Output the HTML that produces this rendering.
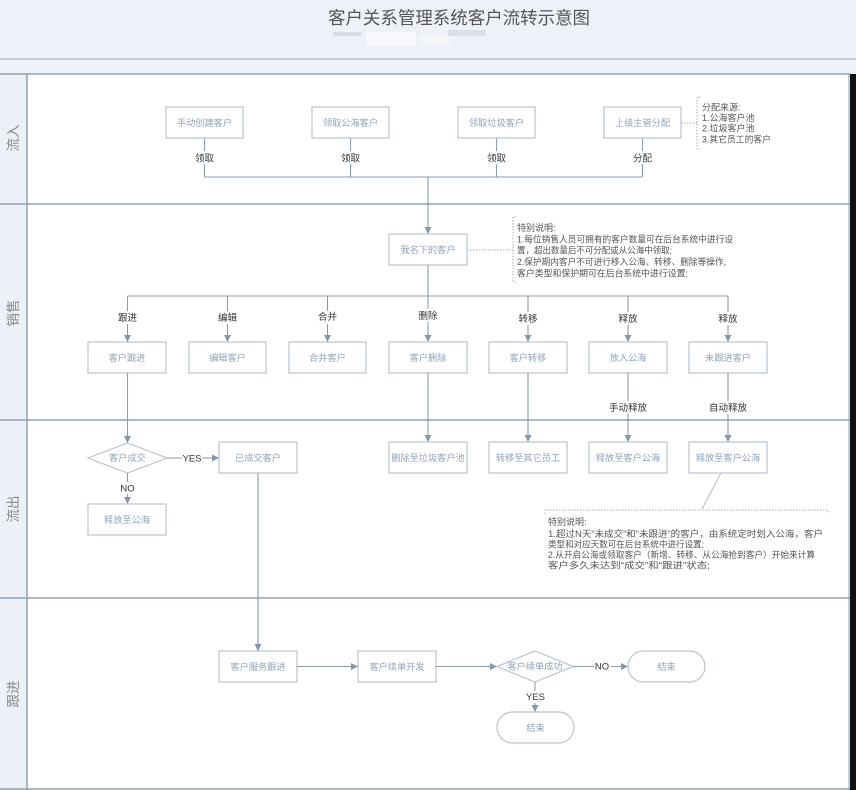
<!DOCTYPE html>
<html>
<head>
<meta charset="utf-8">
<style>
  html,body{margin:0;padding:0;background:#fff;}
  svg{display:block;}
  text{font-family:"Liberation Sans","Noto Sans CJK SC",sans-serif;}
  .bx{fill:#fff;stroke:#b9c4d0;stroke-width:1.2;}
  .bt{font-size:9.2px;fill:#8fa3ba;text-anchor:middle;}
  .ln{stroke:#8d9bac;stroke-width:1.1;fill:none;}
  .el{font-size:9.5px;fill:#333;text-anchor:middle;}
  .nt{font-size:9px;fill:#555;}
  .lane{stroke:#8fa0b4;stroke-width:1.5;}
  .ll{font-size:13.5px;fill:#888;text-anchor:middle;}
  .dot{stroke:#a5aeb8;stroke-width:1;stroke-dasharray:1.5,1.5;fill:none;}
</style>
</head>
<body>
<svg width="856" height="790" viewBox="0 0 856 790" xmlns="http://www.w3.org/2000/svg">
  <defs>
    <marker id="ar" markerWidth="8" markerHeight="8" refX="7" refY="3.5" orient="auto" markerUnits="userSpaceOnUse">
      <path d="M0,0 L7,3.5 L0,7 Z" fill="#8596a9"/>
    </marker>
  </defs>

  <!-- backgrounds -->
  <rect x="0" y="0" width="856" height="790" fill="#ffffff"/>
  <rect x="0" y="0" width="856" height="74" fill="#eef1f7"/>
  <rect x="0" y="74" width="27" height="716" fill="#edf1f7"/>
  <rect x="850" y="74" width="6" height="716" fill="#111"/>

  <!-- title -->
  <text x="459" y="24" font-size="17.5" fill="#555" text-anchor="middle" textLength="262" lengthAdjust="spacingAndGlyphs">客户关系管理系统客户流转示意图</text>
  <rect x="333" y="32" width="28" height="4" fill="#c9ced6" opacity="0.6"/>
  <rect x="366" y="32" width="50" height="14" fill="#f7f8fb" opacity="0.9"/>
  <rect x="448" y="30" width="38" height="6" fill="#cfd3da" opacity="0.6"/>
  <rect x="420" y="36" width="30" height="10" fill="#f4f6fa" opacity="0.9"/>

  <!-- header lines -->
  <line x1="0" y1="59" x2="856" y2="59" stroke="#aab6c4" stroke-width="1.2"/>
  <line x1="0" y1="74" x2="850" y2="74" class="lane"/>
  <!-- lanes -->
  <line x1="0" y1="204" x2="850" y2="204" class="lane"/>
  <line x1="0" y1="420" x2="850" y2="420" class="lane"/>
  <line x1="0" y1="598" x2="850" y2="598" class="lane"/>
  <line x1="0" y1="789" x2="850" y2="789" class="lane"/>
  <line x1="27" y1="74" x2="27" y2="790" class="lane" stroke-width="1.2"/>
  <line x1="849" y1="74" x2="849" y2="790" stroke="#8fa0b4" stroke-width="1"/>

  <!-- lane labels -->
  <text class="ll" transform="translate(18,138) rotate(-90)">流入</text>
  <text class="ll" transform="translate(18,313) rotate(-90)">销售</text>
  <text class="ll" transform="translate(18,509) rotate(-90)">流出</text>
  <text class="ll" transform="translate(18,694) rotate(-90)">跟进</text>

  <!-- ===== 流入 ===== -->
  <path class="ln" d="M204.5,138 V177 M350.5,138 V177 M496.5,138 V177 M642.5,138 V177 M204.5,177 H642.5"/>
  <path class="ln" d="M428,177 V234" marker-end="url(#ar)"/>
  <rect class="bx" x="166" y="107" width="77" height="31"/>
  <rect class="bx" x="312" y="107" width="77" height="31"/>
  <rect class="bx" x="458" y="107" width="77" height="31"/>
  <rect class="bx" x="604" y="107" width="77" height="31"/>
  <text class="bt" x="204.5" y="126">手动创建客户</text>
  <text class="bt" x="350.5" y="126">领取公海客户</text>
  <text class="bt" x="496.5" y="126">领取垃圾客户</text>
  <text class="bt" x="642.5" y="126">上级主管分配</text>
  <rect x="194" y="151" width="21" height="13" fill="#fff"/>
  <rect x="340" y="151" width="21" height="13" fill="#fff"/>
  <rect x="486" y="151" width="21" height="13" fill="#fff"/>
  <rect x="632" y="151" width="21" height="13" fill="#fff"/>
  <text class="el" x="204.5" y="161.5">领取</text>
  <text class="el" x="350.5" y="161.5">领取</text>
  <text class="el" x="496.5" y="161.5">领取</text>
  <text class="el" x="642.5" y="161.5">分配</text>
  <!-- note 分配来源 -->
  <line class="dot" x1="681" y1="123" x2="697" y2="123"/>
  <path class="dot" d="M700,97 H697 V149 H700"/>
  <text class="nt" x="702" y="110.5">分配来源:</text>
  <text class="nt" x="702" y="121">1.公海客户池</text>
  <text class="nt" x="702" y="131.5">2.垃圾客户池</text>
  <text class="nt" x="702" y="142.5" textLength="69" lengthAdjust="spacingAndGlyphs">3.其它员工的客户</text>

  <!-- ===== 销售 ===== -->
  <rect class="bx" x="389" y="234" width="78" height="31"/>
  <text class="bt" x="428" y="253">我名下的客户</text>
  <line class="dot" x1="467" y1="250" x2="513" y2="250"/>
  <path class="dot" d="M516,217 H513 V282 H516"/>
  <text class="nt" x="517" y="231">特别说明:</text>
  <text class="nt" x="517" y="242.5" textLength="216" lengthAdjust="spacingAndGlyphs">1.每位销售人员可拥有的客户数量可在后台系统中进行设</text>
  <text class="nt" x="517" y="253.5" textLength="155" lengthAdjust="spacingAndGlyphs">置，超出数量后不可分配或从公海中领取;</text>
  <text class="nt" x="517" y="265" textLength="209" lengthAdjust="spacingAndGlyphs">2.保护期内客户不可进行移入公海、转移、删除等操作,</text>
  <text class="nt" x="517" y="276.5" textLength="171" lengthAdjust="spacingAndGlyphs">客户类型和保护期可在后台系统中进行设置;</text>

  <path class="ln" d="M428,265 V296 M127.5,296 H728"/>
  <path class="ln" d="M127.5,296 V342" marker-end="url(#ar)"/>
  <path class="ln" d="M227.5,296 V342" marker-end="url(#ar)"/>
  <path class="ln" d="M327.5,296 V342" marker-end="url(#ar)"/>
  <path class="ln" d="M428,296 V342" marker-end="url(#ar)"/>
  <path class="ln" d="M528,296 V342" marker-end="url(#ar)"/>
  <path class="ln" d="M628,296 V342" marker-end="url(#ar)"/>
  <path class="ln" d="M728,296 V342" marker-end="url(#ar)"/>
  <g fill="#fff">
    <rect x="117" y="311" width="21" height="13"/>
    <rect x="217" y="311" width="21" height="13"/>
    <rect x="317" y="311" width="21" height="13"/>
    <rect x="417.5" y="309" width="21" height="13"/>
    <rect x="517.5" y="312" width="21" height="13"/>
    <rect x="617.5" y="312" width="21" height="13"/>
    <rect x="717.5" y="312" width="21" height="13"/>
  </g>
  <text class="el" x="127.5" y="321">跟进</text>
  <text class="el" x="227.5" y="321">编辑</text>
  <text class="el" x="327.5" y="320">合并</text>
  <text class="el" x="428" y="319">删除</text>
  <text class="el" x="528" y="322">转移</text>
  <text class="el" x="628" y="322">释放</text>
  <text class="el" x="728" y="322">释放</text>

  <rect class="bx" x="88" y="342" width="78" height="31"/>
  <rect class="bx" x="189" y="342" width="77" height="31"/>
  <rect class="bx" x="289" y="342" width="77" height="31"/>
  <rect class="bx" x="389" y="342" width="78" height="31"/>
  <rect class="bx" x="489" y="342" width="78" height="31"/>
  <rect class="bx" x="589" y="342" width="78" height="31"/>
  <rect class="bx" x="689" y="342" width="78" height="31"/>
  <text class="bt" x="127" y="361">客户跟进</text>
  <text class="bt" x="227.5" y="361">编辑客户</text>
  <text class="bt" x="327.5" y="361">合并客户</text>
  <text class="bt" x="428" y="361">客户删除</text>
  <text class="bt" x="528" y="361">客户转移</text>
  <text class="bt" x="628" y="361">放入公海</text>
  <text class="bt" x="728" y="361">未跟进客户</text>

  <!-- down to 流出 -->
  <path class="ln" d="M127.5,373 V443" marker-end="url(#ar)"/>
  <path class="ln" d="M428,373 V442" marker-end="url(#ar)"/>
  <path class="ln" d="M528,373 V442" marker-end="url(#ar)"/>
  <path class="ln" d="M628,373 V442" marker-end="url(#ar)"/>
  <path class="ln" d="M728,373 V442" marker-end="url(#ar)"/>
  <rect x="609" y="401" width="38" height="13" fill="#fff"/>
  <rect x="709" y="401" width="38" height="13" fill="#fff"/>
  <text class="el" x="628" y="411">手动释放</text>
  <text class="el" x="728" y="411">自动释放</text>

  <!-- ===== 流出 ===== -->
  <polygon points="88,458 127.5,443 167,458 127.5,473" fill="#fff" stroke="#b9c4d0" stroke-width="1.2"/>
  <text class="bt" x="127.5" y="461">客户成交</text>
  <path class="ln" d="M167,458 H219" marker-end="url(#ar)"/>
  <rect x="182" y="452" width="20" height="12" fill="#fff"/>
  <text class="el" x="192" y="461.5" font-size="8.5">YES</text>
  <rect class="bx" x="219" y="442" width="78" height="31"/>
  <text class="bt" x="258" y="461">已成交客户</text>

  <path class="ln" d="M127.5,473 V504" marker-end="url(#ar)"/>
  <rect x="119" y="482" width="17" height="12" fill="#fff"/>
  <text class="el" x="127.5" y="491.5" font-size="8.5">NO</text>
  <rect class="bx" x="88" y="504" width="78" height="31"/>
  <text class="bt" x="127" y="523">释放至公海</text>

  <rect class="bx" x="389" y="442" width="78" height="31"/>
  <rect class="bx" x="489" y="442" width="78" height="31"/>
  <rect class="bx" x="589" y="442" width="78" height="31"/>
  <rect class="bx" x="689" y="442" width="78" height="31"/>
  <text class="bt" x="428" y="461">删除至垃圾客户池</text>
  <text class="bt" x="528" y="461">转移至其它员工</text>
  <text class="bt" x="628" y="461">释放至客户公海</text>
  <text class="bt" x="728" y="461">释放至客户公海</text>

  <line x1="721" y1="473" x2="702" y2="509" stroke="#b3bcc6" stroke-width="1"/>
  <path class="dot" d="M545,514 V510 H828 V514"/>
  <text class="nt" x="548" y="525">特别说明:</text>
  <text class="nt" x="548" y="537" textLength="275" lengthAdjust="spacingAndGlyphs">1.超过N天“未成交”和“未跟进”的客户，由系统定时划入公海，客户</text>
  <text class="nt" x="548" y="547.5" textLength="156" lengthAdjust="spacingAndGlyphs">类型和对应天数可在后台系统中进行设置;</text>
  <text class="nt" x="548" y="558" textLength="267" lengthAdjust="spacingAndGlyphs">2.从开启公海或领取客户（新增、转移、从公海抢到客户）开始来计算</text>
  <text class="nt" x="548" y="568.5" textLength="162" lengthAdjust="spacingAndGlyphs">客户多久未达到“成交”和“跟进”状态;</text>

  <!-- ===== 跟进 ===== -->
  <path class="ln" d="M258,473 V651" marker-end="url(#ar)"/>
  <rect class="bx" x="219" y="651" width="78" height="31"/>
  <text class="bt" x="258" y="670">客户服务跟进</text>
  <path class="ln" d="M297,666.5 H358" marker-end="url(#ar)"/>
  <rect class="bx" x="358" y="651" width="78" height="31"/>
  <text class="bt" x="397" y="670">客户续单开发</text>
  <path class="ln" d="M436,666.5 H497" marker-end="url(#ar)"/>
  <polygon points="497,666.5 535,651 573,666.5 535,682" fill="#fff" stroke="#b9c4d0" stroke-width="1.2"/>
  <text class="bt" x="535" y="669.5">客户续单成功</text>
  <path class="ln" d="M573,666.5 H628" marker-end="url(#ar)"/>
  <rect x="594" y="660" width="17" height="12" fill="#fff"/>
  <text class="el" x="602" y="669.5" font-size="8.5">NO</text>
  <rect class="bx" x="628" y="651" width="77" height="31" rx="15.5" ry="15.5"/>
  <text class="bt" x="666.5" y="670">结束</text>
  <path class="ln" d="M535,682 V712" marker-end="url(#ar)"/>
  <rect x="526" y="691" width="19" height="12" fill="#fff"/>
  <text class="el" x="535.5" y="700" font-size="8.5">YES</text>
  <rect class="bx" x="497" y="712" width="77" height="31" rx="15.5" ry="15.5"/>
  <text class="bt" x="535.5" y="731">结束</text>
</svg>
</body>
</html>
